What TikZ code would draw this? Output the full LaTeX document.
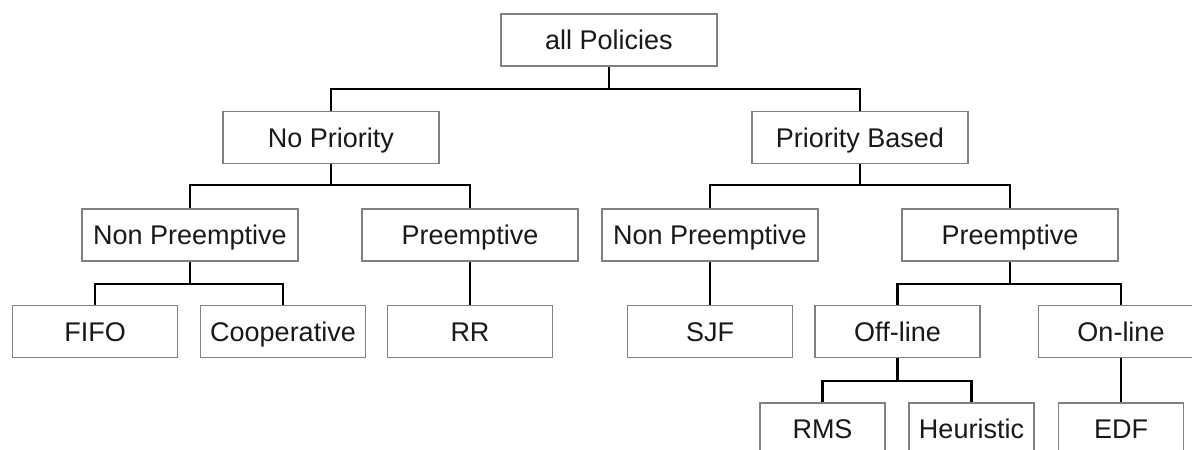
\documentclass[tikz,border=0pt]{standalone}
\usepackage{fontspec}
\setmainfont{Liberation Sans}
\begin{document}
\begin{tikzpicture}[x=1pt,y=-1pt,
  box/.style={draw=boxgray, line width=1.7pt, fill=white, inner sep=0pt,
    minimum height=52pt, text height=19.3pt, text depth=0pt,
    font=\fontsize{27}{32}\selectfont, text=black!90},
  wbox/.style={box, minimum width=216pt},
  mbox/.style={box, minimum width=165pt},
  sbox/.style={box, minimum width=125pt},
  conn/.style={draw=black, line width=2.2pt}]
\definecolor{boxgray}{RGB}{128,128,128}
\useasboundingbox (0,0) rectangle (1192,450);
\clip (0,0) rectangle (1192,450);
\fill[white] (0,0) rectangle (1192,450);
% nodes
\node[wbox] (allp) at (609,40) {all Policies};
\node[wbox] (nop) at (331,137.5) {No Priority};
\node[wbox] (prb) at (860,137.5) {Priority Based};
\node[wbox] (npl) at (190,235) {Non Preemptive};
\node[wbox] (pl) at (470,235) {Preemptive};
\node[wbox] (npr) at (710,235) {Non Preemptive};
\node[wbox] (pr) at (1010,235) {Preemptive};
\node[mbox] (fifo) at (95,331.5) {FIFO};
\node[mbox] (coop) at (283,331.5) {Cooperative};
\node[mbox] (rr) at (470,331.5) {RR};
\node[mbox] (sjf) at (710,331.5) {SJF};
\node[mbox] (off) at (897.5,331.5) {Off-line};
\node[mbox] (on) at (1121,331.5) {On-line};
\node[sbox] (rms) at (822.5,429) {RMS};
\node[sbox] (heur) at (971.5,429) {Heuristic};
\node[sbox] (edf) at (1121,429) {EDF};
% connectors
\draw[conn] (allp.south) -- ++(0,22) -| (nop.north);
\draw[conn] (allp.south) -- ++(0,22) -| (prb.north);
\draw[conn] (nop.south) -- ++(0,21) -| (npl.north);
\draw[conn] (nop.south) -- ++(0,21) -| (pl.north);
\draw[conn] (prb.south) -- ++(0,21) -| (npr.north);
\draw[conn] (prb.south) -- ++(0,21) -| (pr.north);
\draw[conn] (npl.south) -- ++(0,22) -| (fifo.north);
\draw[conn] (npl.south) -- ++(0,22) -| (coop.north);
\draw[conn] (pl.south) -- (rr.north);
\draw[conn] (npr.south) -- (sjf.north);
\draw[conn] (pr.south) -- ++(0,22) -| (off.north);
\draw[conn] (pr.south) -- ++(0,22) -| (on.north);
\draw[conn] (off.south) -- ++(0,23) -| (rms.north);
\draw[conn] (off.south) -- ++(0,23) -| (heur.north);
\draw[conn] (on.south) -- (edf.north);
\end{tikzpicture}
\end{document}
